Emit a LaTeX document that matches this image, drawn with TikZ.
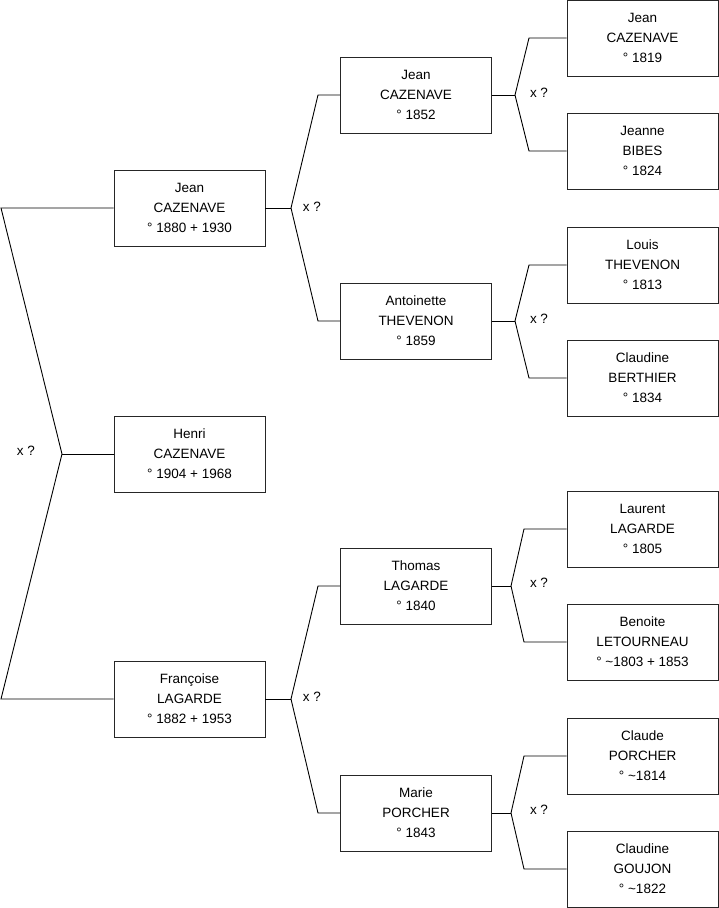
\documentclass[tikz,border=0pt]{standalone}
\usepackage{fontspec}
\setmainfont{Liberation Sans}
\begin{document}
\begin{tikzpicture}[x=1pt,y=-1pt,
  person/.style={draw=black!85, line width=0.9pt, rectangle, minimum width=151pt, minimum height=76pt,
    align=center, font=\fontsize{13.5}{20}\selectfont, inner sep=0pt},
  link/.style={draw=black, line width=0.9pt},
  qlabel/.style={font=\fontsize{13.5}{15}\selectfont, inner sep=0pt}]
\useasboundingbox (0,0) rectangle (719,908);
% generation 0
\node[person] (henri) at (189.5,454) {Henri\\CAZENAVE\\° 1904 + 1968};
% generation 1
\node[person] (jean1) at (189.5,208) {Jean\\CAZENAVE\\° 1880 + 1930};
\node[person] (franc) at (189.5,699) {Françoise\\LAGARDE\\° 1882 + 1953};
% generation 2
\node[person] (jean2) at (416,95) {Jean\\CAZENAVE\\° 1852};
\node[person] (anto) at (416,321) {Antoinette\\THEVENON\\° 1859};
\node[person] (thom) at (416,586) {Thomas\\LAGARDE\\° 1840};
\node[person] (marie) at (416,813) {Marie\\PORCHER\\° 1843};
% generation 3
\node[person] (jean3) at (642.5,38) {Jean\\CAZENAVE\\° 1819};
\node[person] (jeanne) at (642.5,151) {Jeanne\\BIBES\\° 1824};
\node[person] (louis) at (642.5,265) {Louis\\THEVENON\\° 1813};
\node[person] (claudb) at (642.5,378) {Claudine\\BERTHIER\\° 1834};
\node[person] (laur) at (642.5,529) {Laurent\\LAGARDE\\° 1805};
\node[person] (beno) at (642.5,642) {Benoite\\LETOURNEAU\\° \textasciitilde1803 + 1853};
\node[person] (claude) at (642.5,756) {Claude\\PORCHER\\° \textasciitilde1814};
\node[person] (claudg) at (642.5,869) {Claudine\\GOUJON\\° \textasciitilde1822};
% junctions and bends
\coordinate (j0) at (62,454);
\coordinate (b0a) at (1,208);
\coordinate (b0b) at (1,699);
\coordinate (j1a) at (291,208);
\coordinate (b1a) at (318,95);
\coordinate (b1b) at (318,321);
\coordinate (j1b) at (291,699);
\coordinate (b1c) at (318,586);
\coordinate (b1d) at (318,813);
\coordinate (j2a) at (515,95);
\coordinate (b2a) at (529,38);
\coordinate (b2b) at (529,151);
\coordinate (j2b) at (515,321);
\coordinate (b2c) at (529,265);
\coordinate (b2d) at (529,378);
\coordinate (j2c) at (511,586);
\coordinate (b2e) at (524,529);
\coordinate (b2f) at (524,642);
\coordinate (j2d) at (511,813);
\coordinate (b2g) at (524,756);
\coordinate (b2h) at (524,869);
% connectors
\draw[link] (henri.west) -- (j0);
\draw[link] (j0) -- (b0a) -- (jean1.west);
\draw[link] (j0) -- (b0b) -- (franc.west);
\draw[link] (jean1.east) -- (j1a);
\draw[link] (j1a) -- (b1a) -- (jean2.west);
\draw[link] (j1a) -- (b1b) -- (anto.west);
\draw[link] (franc.east) -- (j1b);
\draw[link] (j1b) -- (b1c) -- (thom.west);
\draw[link] (j1b) -- (b1d) -- (marie.west);
\draw[link] (jean2.east) -- (j2a);
\draw[link] (j2a) -- (b2a) -- (jean3.west);
\draw[link] (j2a) -- (b2b) -- (jeanne.west);
\draw[link] (anto.east) -- (j2b);
\draw[link] (j2b) -- (b2c) -- (louis.west);
\draw[link] (j2b) -- (b2d) -- (claudb.west);
\draw[link] (thom.east) -- (j2c);
\draw[link] (j2c) -- (b2e) -- (laur.west);
\draw[link] (j2c) -- (b2f) -- (beno.west);
\draw[link] (marie.east) -- (j2d);
\draw[link] (j2d) -- (b2g) -- (claude.west);
\draw[link] (j2d) -- (b2h) -- (claudg.west);
% labels
\node[qlabel] (q0) at (26,451) {x ?};
\node[qlabel] (q1a) at (312,207) {x ?};
\node[qlabel] (q1b) at (312,697) {x ?};
\node[qlabel] (q2a) at (539,93) {x ?};
\node[qlabel] (q2b) at (539,319) {x ?};
\node[qlabel] (q2c) at (539,583) {x ?};
\node[qlabel] (q2d) at (539,810) {x ?};
\end{tikzpicture}
\end{document}
